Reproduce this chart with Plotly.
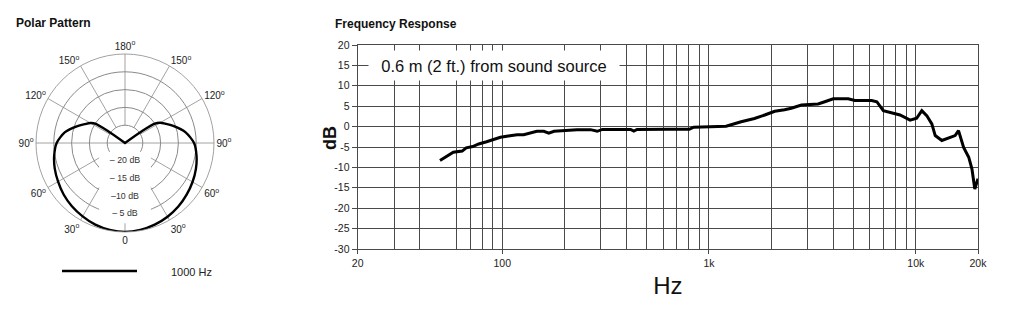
import math
import plotly.graph_objects as go

FONT = "Liberation Sans, Arial, Helvetica, sans-serif"
W, H = 1024, 309

# ---------------- Frequency response data ----------------
freq_hz = [50, 58, 64, 67, 72, 77, 84, 89, 98, 107, 118, 127, 137, 147, 159, 168,
           178, 199, 230, 267, 288, 305, 374, 418, 433, 449, 630, 803, 844, 985,
           1210, 1430, 1660, 1860, 2080, 2320, 2500, 2800, 3370, 3630, 3990, 4710,
           5080, 6120, 6480, 6970, 7650, 8390, 9390, 10100, 10700, 11300, 11960,
           12420, 13370, 14950, 15500, 16100, 17040, 18040, 18700, 19300, 20000]
response_db = [-8.3, -6.3, -6.0, -5.2, -4.9, -4.25, -3.7, -3.3, -2.6, -2.3, -2.0, -2.0,
               -1.55, -1.15, -1.15, -1.6, -1.15, -0.9, -0.75, -0.75, -1.15, -0.7, -0.7,
               -0.7, -1.1, -0.7, -0.65, -0.65, -0.15, -0.1, 0.1, 1.2, 2.0, 2.85, 3.75,
               4.15, 4.5, 5.3, 5.55, 6.1, 6.8, 6.8, 6.4, 6.4, 6.1, 3.9, 3.35, 2.85,
               1.6, 2.05, 3.9, 2.7, 0.65, -2.2, -3.4, -2.6, -2.2, -1.0, -5.1, -7.5,
               -10.4, -15.3, -12.8]

x_major = [20, 100, 1000, 10000, 20000]
x_major_labels = ["20", "100", "1k", "10k", "20k"]
x_minor = [30, 40, 60, 70, 80, 90,
           200, 300, 400, 500, 600, 700, 800, 900,
           2000, 3000, 4000, 5000, 6000, 7000, 8000, 9000]
y_ticks = [-30, -25, -20, -15, -10, -5, 0, 5, 10, 15, 20]
y_tick_labels = ["-30", "-25", "-20", "-15", "-10", "-5", "0", "5", "10", "15", "20"]

# ---------------- Polar pattern data ----------------
polar_theta = [0, 10, 20, 30, 40, 50, 60, 70, 80, 90, 100, 110, 115, 120, 123, 125, 127,
               180,
               233, 235, 237, 240, 245, 250, 260, 270, 280, 290, 300, 310, 320, 330,
               340, 350, 360]
polar_db = [0, -0.2, -0.6, -1.2, -1.8, -2.5, -3.3, -4.0, -4.8, -5.8, -7.8, -11.0, -12.5,
            -13.8, -15.0, -19.0, -25.0,
            -25.0,
            -25.0, -19.0, -15.0, -13.6, -12.3, -10.8, -7.7, -5.6, -4.6, -3.8, -3.1,
            -2.4, -1.7, -1.1, -0.6, -0.2, 0]

angle_ticks = [0, 30, 60, 90, 120, 150, 180, 210, 240, 270, 300, 330]
angle_labels = ["0", "30<sup>o</sup>", "60<sup>o</sup>", "90<sup>o</sup>",
                "120<sup>o</sup>", "150<sup>o</sup>", "180<sup>o</sup>",
                "150<sup>o</sup>", "120<sup>o</sup>", "90<sup>o</sup>",
                "60<sup>o</sup>", "30<sup>o</sup>"]
ring_values = [-20, -15, -10, -5]
ring_labels = ["\u2013 20 dB", "\u2013 15 dB", "\u201310 dB", "\u2013 5 dB"]
spoke_angles = [0, 30, 60, 120, 150, 180, 210, 240, 300, 330]
legend_label = "1000 Hz"

POLAR_GRID = "#8a8a8a"
GRID = "#4a4a4a"

fig = go.Figure()

# spokes of the polar grid (start at the inner ring)
for a in spoke_angles:
    fig.add_trace(go.Scatterpolar(theta=[a, a], r=[-20, 0], mode="lines",
                                  line=dict(color=POLAR_GRID, width=0.8),
                                  showlegend=False, hoverinfo="skip"))
# horizontal diameter 90-270
fig.add_trace(go.Scatterpolar(theta=[90, 90, 270], r=[0, -25, 0], mode="lines",
                              line=dict(color=POLAR_GRID, width=0.8),
                              showlegend=False, hoverinfo="skip"))
# white backgrounds behind the dB labels
fig.add_trace(go.Scatterpolar(theta=[0] * len(ring_values), r=ring_values, mode="markers",
                              marker=dict(symbol="line-ew", size=37,
                                          line=dict(color="white", width=18)),
                              showlegend=False, hoverinfo="skip"))
fig.add_trace(go.Scatterpolar(theta=[0] * len(ring_values), r=ring_values, mode="text",
                              text=ring_labels, textposition="middle center",
                              textfont=dict(family=FONT, size=8.8, color="#333"),
                              showlegend=False, hoverinfo="skip"))
# polar pattern curve
fig.add_trace(go.Scatterpolar(theta=polar_theta, r=polar_db, mode="lines",
                              line=dict(color="black", width=2.4, shape="spline", smoothing=0.7),
                              name=legend_label, showlegend=False))

# frequency response curve
fig.add_trace(go.Scatter(x=freq_hz, y=response_db, mode="lines",
                         line=dict(color="black", width=3),
                         showlegend=False, xaxis="x", yaxis="y"))

cx, cy, R = 125, 143, 89
fig.update_layout(
    width=W, height=H,
    margin=dict(l=0, r=0, t=0, b=0, pad=0, autoexpand=False),
    paper_bgcolor="white", plot_bgcolor="white",
    font=dict(family=FONT, color="#222"),
    polar=dict(
        domain=dict(x=[(cx - R) / W, (cx + R) / W], y=[(H - cy - R) / H, (H - cy + R) / H]),
        bgcolor="white",
        angularaxis=dict(rotation=270, direction="clockwise",
                         tickmode="array", tickvals=angle_ticks, ticktext=angle_labels,
                         showgrid=False, showline=True, linecolor=POLAR_GRID, linewidth=0.8,
                         ticks="", tickfont=dict(size=10, color="#222")),
        radialaxis=dict(range=[-25, 0], tickmode="array", tickvals=ring_values,
                        showticklabels=False, ticks="", showline=False,
                        showgrid=True, gridcolor=POLAR_GRID, gridwidth=0.8),
    ),
    xaxis=dict(type="log", range=[math.log10(20), math.log10(20000)],
               domain=[357.7 / W, 978 / W], anchor="y", automargin=False,
               tickmode="array", tickvals=x_major, ticktext=x_major_labels,
               ticks="outside", ticklen=4, tickcolor=GRID, tickwidth=1,
               tickfont=dict(size=10.5, color="#222"),
               showgrid=True, gridcolor=GRID, gridwidth=1.2,
               minor=dict(tickvals=x_minor, showgrid=True, gridcolor=GRID, gridwidth=1.2, ticks=""),
               showline=True, mirror=True, linecolor=GRID, linewidth=1.2, zeroline=False,
               title=dict(text="Hz", font=dict(size=24, color="#111"), standoff=9)),
    yaxis=dict(range=[-30, 20], domain=[60 / H, 264 / H], anchor="x", automargin=False,
               tickmode="array", tickvals=y_ticks, ticktext=y_tick_labels,
               ticks="outside", ticklen=5, tickcolor=GRID, tickwidth=1,
               tickfont=dict(size=10.5, color="#222"),
               showgrid=True, gridcolor=GRID, gridwidth=1.2,
               showline=True, mirror=True, linecolor=GRID, linewidth=1.2, zeroline=False),
    annotations=[
        dict(text="<b>Polar Pattern</b>", xref="paper", yref="paper",
             x=14 / W, y=(H - 23) / H, xanchor="left", yanchor="middle", showarrow=False,
             font=dict(size=12, color="#111")),
        dict(text="<b>Frequency Response</b>", xref="paper", yref="paper",
             x=333 / W, y=(H - 24) / H, xanchor="left", yanchor="middle", showarrow=False,
             font=dict(size=12, color="#111")),
        dict(text="0.6 m (2 ft.) from sound source", xref="paper", yref="paper",
             x=494 / W, y=(H - 65) / H, xanchor="center", yanchor="middle", showarrow=False,
             width=250, height=29, bgcolor="white", borderpad=0,
             font=dict(size=16.5, color="#111")),
        dict(text="<b>dB</b>", xref="paper", yref="paper", textangle=-90,
             x=330 / W, y=(H - 138) / H, xanchor="center", yanchor="middle", showarrow=False,
             font=dict(size=18, color="#111")),
        dict(text=legend_label, xref="paper", yref="paper",
             x=169 / W, y=(H - 272) / H, xanchor="left", yanchor="middle", showarrow=False,
             font=dict(size=11, color="#222")),
    ],
    shapes=[
        dict(type="line", xref="paper", yref="paper",
             x0=62 / W, x1=137 / W, y0=(H - 271) / H, y1=(H - 271) / H,
             line=dict(color="black", width=2.3)),
    ],
)

fig.write_html("out.html")
